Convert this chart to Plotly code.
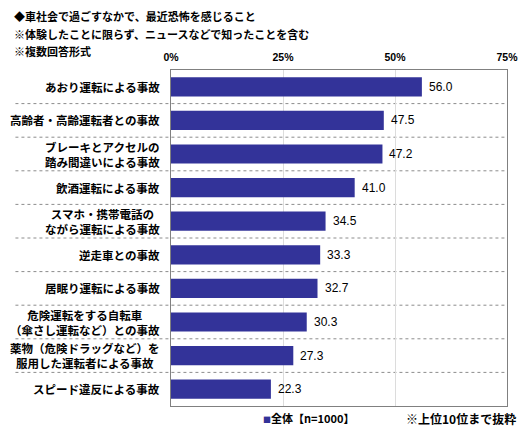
import plotly.graph_objects as go

categories = [
    'あおり運転による事故',
    '高齢者・高齢運転者との事故',
    'ブレーキとアクセルの<br>踏み間違いによる事故',
    '飲酒運転による事故',
    'スマホ・携帯電話の<br>ながら運転による事故',
    '逆走車との事故',
    '居眠り運転による事故',
    '危険運転をする自転車<br>（傘さし運転など）との事故',
    '薬物（危険ドラッグなど）を<br>服用した運転者による事故',
    'スピード違反による事故',
]
values = [56.0, 47.5, 47.2, 41.0, 34.5, 33.3, 32.7, 30.3, 27.3, 22.3]
tick_vals = [0, 25, 50, 75]
tick_text = ['0%', '25%', '50%', '75%']
series_name = '全体【n=1000】'
title_lines = [
    '◆車社会で過ごすなかで、最近恐怖を感じること',
    '※体験したことに限らず、ニュースなどで知ったことを含む',
    '※複数回答形式',
]
note = '※上位10位まで抜粋'

font = 'Noto Sans CJK JP, sans-serif'
bar_color = '#333399'
pos = list(range(len(categories)))

fig = go.Figure()
fig.add_trace(go.Bar(
    x=values, y=pos, orientation='h', name=series_name,
    marker=dict(color=bar_color, line=dict(width=0)),
    width=0.57, showlegend=False,
))

# value labels right of bars
for i, v in zip(pos, values):
    fig.add_annotation(x=v, y=i, xref='x', yref='y', text=f'{v:.1f}',
                       showarrow=False, xanchor='left', xshift=5,
                       font=dict(size=12, color='black', family='Liberation Sans, Arial'))

# category labels, centred lines, right edge near the axis
for i, c in zip(pos, categories):
    fig.add_annotation(x=0, y=i, xref='paper', yref='y', text=c,
                       showarrow=False, xanchor='right', align='center',
                       xshift=-9, font=dict(size=11.5, color='black', family=font, weight='bold'))

# dotted separators between categories
for i in pos[:-1]:
    fig.add_shape(type='line', xref='paper', yref='y', x0=-0.463, x1=1,
                  y0=i + 0.5, y1=i + 0.5,
                  line=dict(color='#8c8c8c', width=1, dash='dot'), layer='below')

# title lines
for k, line in enumerate(title_lines):
    fig.add_annotation(x=-0.473, y=1, xref='paper', yref='paper', yshift=54 - 17.5 * k,
                       text=line, showarrow=False, xanchor='left', yanchor='middle',
                       font=dict(size=11, color='black', family=font, weight='bold'))

# legend key and note
fig.add_annotation(x=0.268, y=0, xref='paper', yref='paper', yshift=-12,
                   text=f'<span style="color:{bar_color};font-size:8px">■</span>{series_name}',
                   showarrow=False, xanchor='left', yanchor='middle',
                   font=dict(size=11, color='black', family=font, weight='bold'))
fig.add_annotation(x=1.032, y=0, xref='paper', yref='paper', yshift=-12,
                   text=note, showarrow=False, xanchor='right', yanchor='middle',
                   font=dict(size=12, color='black', family=font, weight='bold'))

fig.update_layout(
    width=530, height=433,
    margin=dict(l=171, r=19, t=70, b=27),
    plot_bgcolor='white', paper_bgcolor='white',
    font=dict(family=font, size=12, color='black'),
    showlegend=False,
    xaxis=dict(range=[0, 75], side='top', tickvals=tick_vals, ticktext=tick_text,
               showgrid=True, gridcolor='#dcdcdc', gridwidth=1,
               showline=True, linecolor='#808080', linewidth=1, mirror=True,
               ticks='', zeroline=False, fixedrange=True, ticklabelstandoff=4,
               tickfont=dict(size=10.5, family='Liberation Sans, Arial', weight='bold')),
    yaxis=dict(range=[len(categories) - 0.5, -0.5], tickvals=pos,
               showticklabels=False, showgrid=False, zeroline=False,
               showline=True, linecolor='#808080', linewidth=1, mirror=True,
               ticks=''),
)

fig.write_html('out.html', config={'displayModeBar': False},
               post_script="document.body.style.margin='0';")
